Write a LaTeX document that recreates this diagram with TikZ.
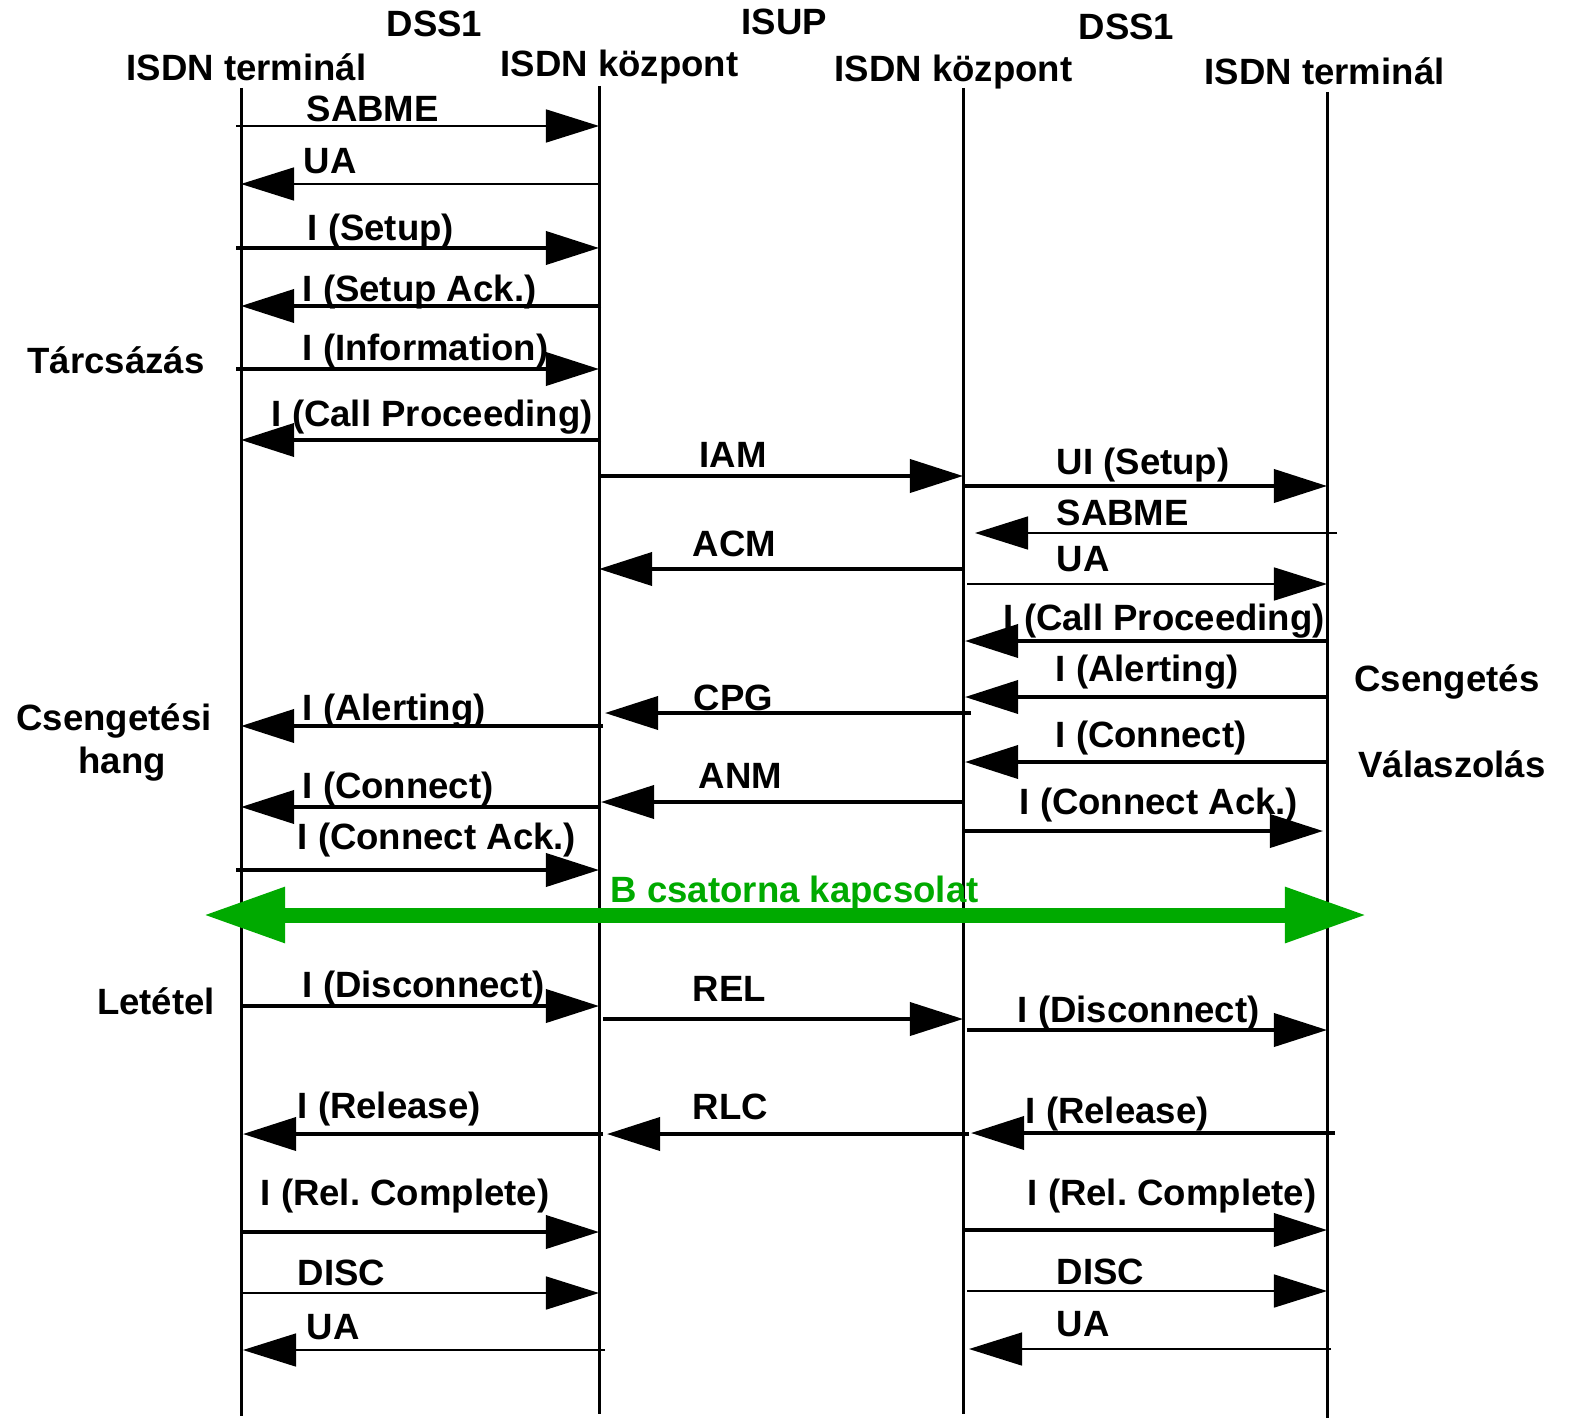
\documentclass[tikz,border=0pt]{standalone}
\usepackage{fontspec}
\setmainfont{Liberation Sans}
\usetikzlibrary{arrows.meta}
\definecolor{bgreen}{RGB}{0,170,0}
\frenchspacing
\begin{document}
\begin{tikzpicture}[x=0.01cm,y=-0.01cm,
  font=\fontsize{10.4}{12.5}\selectfont\bfseries,
  lifeline/.style={line width=0.03cm},
  msgthin/.style={line width=0.015cm,-{Triangle[length=5.3mm,width=3.3mm]}},
  msgthick/.style={line width=0.038cm,-{Triangle[length=5.3mm,width=3.3mm]}},
  lbl/.style={anchor=base west,inner sep=0pt},
  side/.style={anchor=base,inner sep=0pt,align=center}]
\useasboundingbox (0,0) rectangle (1571,1422);

% protocol and entity headers
\node[lbl] (p1) at (386,37) {DSS1};
\node[lbl] (p2) at (741,35) {ISUP};
\node[lbl] (p3) at (1078,40) {DSS1};
\node[lbl] (h1) at (126,81) {ISDN terminál};
\node[lbl] (h2) at (500,77) {ISDN központ};
\node[lbl] (h3) at (834,82) {ISDN központ};
\node[lbl] (h4) at (1204,85) {ISDN terminál};

% lifelines
\coordinate (L1t) at (241,88);  \coordinate (L1b) at (241,1416);
\coordinate (L2t) at (599,86);  \coordinate (L2b) at (599,1414);
\coordinate (L3t) at (963,88);  \coordinate (L3b) at (963,1414);
\coordinate (L4t) at (1327,92); \coordinate (L4b) at (1327,1418);
\foreach \k in {1,2,3,4} \draw[lifeline] (L\k t) -- (L\k b);

% messages
\foreach \n/\ya/\xa/\xb/\st/\tl/\tx/\ty in {
  1/126/236/599/msgthin/SABME/306/122,
  2/184/599/241/msgthin/UA/303/174,
  3/248/236/599/msgthick/I (Setup)/307/241,
  4/306/601/241/msgthick/I (Setup Ack.)/302/302,
  5/369/236/599/msgthick/I (Information)/302/361,
  6/440/601/241/msgthick/I (Call Proceeding)/271/426,
  7/476/599/963/msgthick/IAM/699/467,
  8/486/965/1327/msgthick/UI (Setup)/1056/475,
  9/533/1337/975/msgthin/SABME/1056/525,
  10/569/963/599/msgthick/ACM/692/556,
  11/584/967/1327/msgthin/UA/1056/571,
  12/641/1327/965/msgthick/I (Call Proceeding)/1003/630,
  13/697/1327/965/msgthick/I (Alerting)/1055/681,
  14/713/971/605/msgthick/CPG/693/710,
  15/726/603/241/msgthick/I (Alerting)/302/720,
  16/762/1327/965/msgthick/I (Connect)/1055/747,
  17/802/963/601/msgthick/ANM/698/788,
  18/807/601/241/msgthick/I (Connect)/302/798,
  19/831/963/1323/msgthick/I (Connect Ack.)/1019/814,
  20/870/236/599/msgthick/I (Connect Ack.)/297/849,
  22/1006/241/599/msgthick/I (Disconnect)/302/997,
  23/1019/603/963/msgthick/REL/692/1001,
  24/1030/967/1327/msgthick/I (Disconnect)/1017/1022,
  25/1134/603/243/msgthick/I (Release)/297/1118,
  26/1134/969/607/msgthick/RLC/692/1119,
  27/1133/1335/971/msgthick/I (Release)/1025/1123,
  28/1232/241/599/msgthick/I (Rel. Complete)/260/1205,
  29/1230/963/1327/msgthick/I (Rel. Complete)/1027/1205,
  30/1293/241/599/msgthin/DISC/297/1285,
  31/1291/967/1327/msgthin/DISC/1056/1284,
  32/1350/605/243/msgthin/UA/306/1339,
  33/1349/1331/969/msgthin/UA/1056/1336}
{
  \coordinate (s\n) at (\xa,\ya);
  \coordinate (e\n) at (\xb,\ya);
  \draw[\st] (s\n) -- (e\n);
  \node[lbl] (t\n) at (\tx,\ty) {\tl};
}

% B channel connection
\coordinate (bl) at (203,915);
\coordinate (br) at (1367,915);
\draw[bgreen,line width=0.15cm,{Triangle[length=8.2mm,width=5.2mm]}-{Triangle[length=8.2mm,width=5.2mm]}] (bl) -- (br);
\node[lbl,text=bgreen] (bch) at (610,902) {B csatorna kapcsolat};

% phase labels
\node[side] (ph1) at (116,374) {Tárcsázás};
\node[side] (ph2) at (114,730) {Csengetési};
\node[side] (ph2b) at (122,773) {hang};
\node[side] (ph3) at (156,1014) {Letétel};
\node[side] (ph4) at (1447,691) {Csengetés};
\node[side] (ph5) at (1452,777) {Válaszolás};
\end{tikzpicture}
\end{document}
